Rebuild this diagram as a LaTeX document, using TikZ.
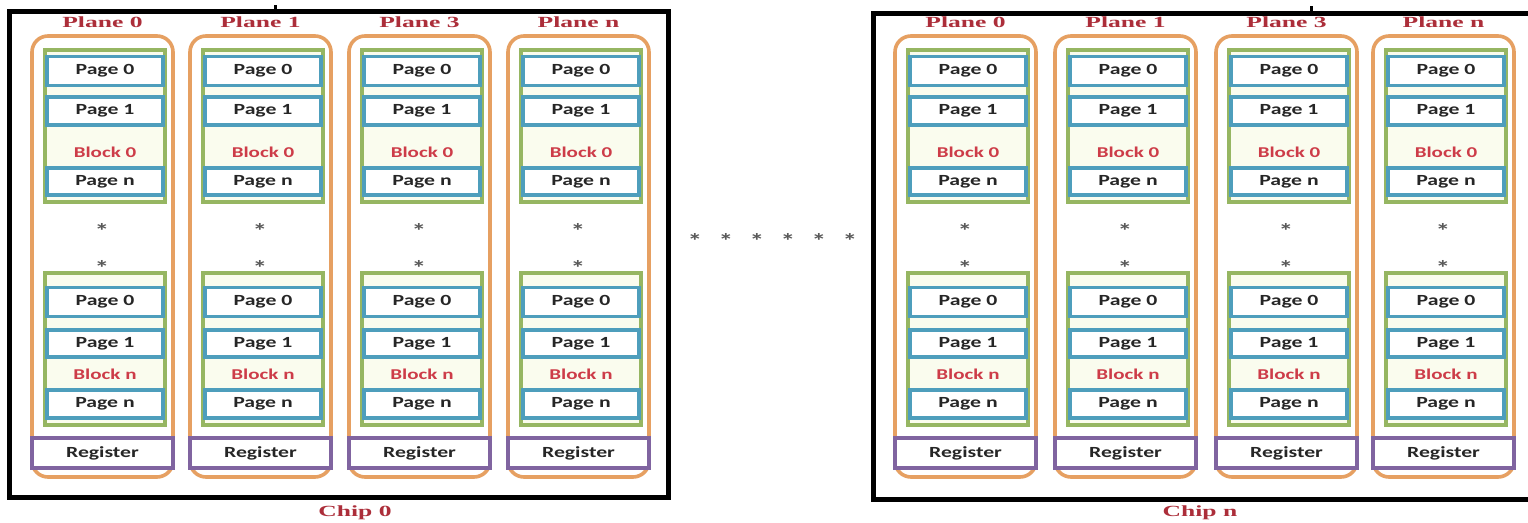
\documentclass[tikz,border=0pt]{standalone}
\usepackage{fontspec}
\newfontfamily\labfont[FakeStretch=1.4]{Carlito}
\newfontfamily\titfont[FakeStretch=1.65]{Liberation Serif}
\definecolor{corange}{RGB}{230,160,98}
\definecolor{cgreen}{RGB}{150,182,98}
\definecolor{cblue}{RGB}{78,158,188}
\definecolor{cpurple}{RGB}{128,100,160}
\definecolor{cred}{RGB}{205,60,72}
\definecolor{ctitle}{RGB}{172,46,58}
\definecolor{cpale}{RGB}{250,252,238}
\tikzset{
  chipbox/.style={draw=black, line width=5pt, fill=white, inner sep=0pt},
  planebox/.style={draw=corange, line width=3.6pt, rounded corners=16pt, inner sep=0pt, minimum width=141pt, minimum height=441pt},
  blockbox/.style={draw=cgreen, line width=3.6pt, fill=cpale, inner sep=0pt, minimum width=120pt, minimum height=152pt},
  pagebox/.style={draw=cblue, line width=3.8pt, fill=white, inner sep=0pt, minimum width=116pt, minimum height=29pt, font=\labfont\bfseries\fontsize{15.5}{16}\selectfont, text=black!85},
  regbox/.style={draw=cpurple, line width=3.8pt, fill=white, inner sep=0pt, minimum width=141pt, minimum height=30pt, font=\labfont\bfseries\fontsize{15.5}{16}\selectfont, text=black!85},
  blocklabel/.style={inner sep=0pt, font=\labfont\bfseries\fontsize{15}{16}\selectfont, text=cred},
  starlabel/.style={inner sep=0pt, font=\labfont\bfseries\fontsize{21}{22}\selectfont, text=black!65},
  titlelabel/.style={inner sep=0pt, font=\titfont\bfseries\fontsize{15.5}{16}\selectfont, text=ctitle},
}
\newcommand\drawchipcols[2]{%
  \foreach \x/\pl [count=\i from 0] in {#2} {
    \node[planebox] (#1pl\i) at (\x+70.5, 256.5) {};
    \node[titlelabel] (#1plt\i) at (\x+70.5, 22) {Plane \pl};
    \node[blockbox] (#1bA\i) at (\x+73, 126) {};
    \node[pagebox] (#1bAp0\i) at (\x+73, 71) {Page 0};
    \node[pagebox, minimum height=28pt] (#1bAp1\i) at (\x+73, 111) {Page 1};
    \node[blocklabel] (#1bAl\i) at (\x+73, 152) {Block 0};
    \node[pagebox, minimum height=27pt] (#1bApn\i) at (\x+73, 181.5) {Page n};
    \node[starlabel] (#1sA\i) at (\x+70, 231) {*};
    \node[starlabel] (#1sB\i) at (\x+70, 268) {*};
    \node[blockbox] (#1bB\i) at (\x+73, 349) {};
    \node[pagebox] (#1bBp0\i) at (\x+73, 302) {Page 0};
    \node[pagebox, minimum height=27pt] (#1bBp1\i) at (\x+73, 343.5) {Page 1};
    \node[blocklabel] (#1bBl\i) at (\x+73, 374) {Block n};
    \node[pagebox, minimum height=28pt] (#1bBpn\i) at (\x+73, 404) {Page n};
    \node[regbox] (#1reg\i) at (\x+70.5, 453) {Register};
  }%
}
\begin{document}
\begin{tikzpicture}[x=1pt, y=-1pt]
\useasboundingbox (0,0) rectangle (1528,522);
\fill[white] (0,0) rectangle (1528,522);
% chip frames
\node[chipbox, minimum width=659pt, minimum height=486pt] (chipA) at (338.5,254) {};
\node[chipbox, minimum width=662pt, minimum height=486pt] (chipB) at (1204,256) {};
\coordinate (tickA) at (275,5);
\coordinate (tickB) at (1311,6);
\draw[line width=3pt] (tickA) -- (tickA |- chipA.north);
\draw[line width=3pt] (tickB) -- (tickB |- chipB.north);
% columns
\drawchipcols{a}{32/0,190/1,349/3,508/n}
\drawchipcols{b}{895/0,1055/1,1216/3,1373/n}
% dots between chips
\foreach \k in {0,...,5} {
  \node[starlabel] (dot\k) at (695+31*\k, 241) {*};
}
% chip labels
\node[titlelabel] (chipAlab) at (355,513) {Chip 0};
\node[titlelabel] (chipBlab) at (1200,513) {Chip n};
\end{tikzpicture}
\end{document}
